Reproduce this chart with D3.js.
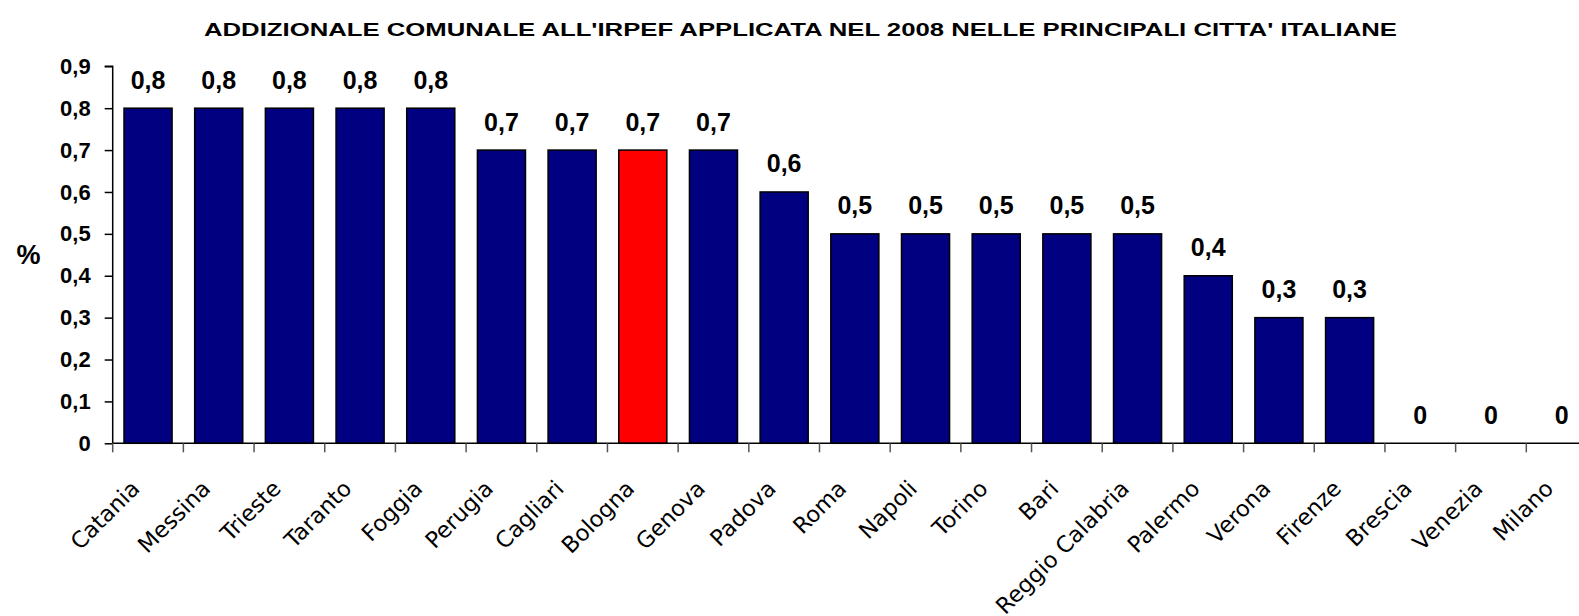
<!DOCTYPE html>
<html><head><meta charset="utf-8">
<script src="https://cdn.jsdelivr.net/npm/d3@7"></script>
<style>body{margin:0;background:#fff}svg{display:block}</style>
</head><body>
<svg id="c" width="1579" height="616"></svg>
<script>
const categories = ["Catania","Messina","Trieste","Taranto","Foggia","Perugia","Cagliari","Bologna","Genova","Padova","Roma","Napoli","Torino","Bari","Reggio Calabria","Palermo","Verona","Firenze","Brescia","Venezia","Milano"];
const values = [0.8,0.8,0.8,0.8,0.8,0.7,0.7,0.7,0.7,0.6,0.5,0.5,0.5,0.5,0.5,0.4,0.3,0.3,0,0,0];
const highlighted = ["Bologna"];
const yTicks = [0,0.1,0.2,0.3,0.4,0.5,0.6,0.7,0.8,0.9];
const title = "ADDIZIONALE COMUNALE ALL'IRPEF APPLICATA NEL 2008 NELLE PRINCIPALI CITTA' ITALIANE";
const yLabel = "%";

const svg = d3.select("#c");
const fmt = d3.formatLocale({decimal:",", thousands:".", grouping:[3], currency:["","€"]}).format("");

const x0 = 112.7, step = 70.68;
const x = d3.scaleBand().domain(categories).range([x0, x0 + step*categories.length]).paddingInner(0.32).paddingOuter(0.16);
const y = d3.scaleLinear().domain([0,0.9]).range([443.3, 66.3]);

// title
svg.append("text").attr("x", 204).attr("y", 36)
  .attr("text-anchor","start").attr("font-family","Liberation Sans, Arial, sans-serif")
  .attr("font-weight","bold").attr("font-size",17.7)
  .attr("textLength",1193).attr("lengthAdjust","spacingAndGlyphs").text(title);

// y label
svg.append("text").attr("x", 28.5).attr("y", 264)
  .attr("text-anchor","middle").attr("font-family","Liberation Sans, Arial, sans-serif")
  .attr("font-weight","bold").attr("font-size",27).text(yLabel);

// bars
svg.append("g").selectAll("rect").data(categories.map((c,i)=>({c, v:values[i]})).filter(d=>d.v>0))
  .join("rect")
  .attr("x", d=>x(d.c)).attr("width", x.bandwidth())
  .attr("y", d=>y(d.v)).attr("height", d=>y(0)-y(d.v))
  .attr("fill", d=>highlighted.includes(d.c) ? "#ff0000" : "#000080")
  .attr("stroke","#000").attr("stroke-width",1.5);

// y axis
const yAxis = d3.axisLeft(y).tickValues(yTicks).tickFormat(fmt).tickSize(8).tickPadding(14);
const gy = svg.append("g").attr("transform",`translate(${x0},0)`).call(yAxis);
gy.select(".domain").attr("stroke","#000").attr("stroke-width",1.5).attr("d", `M-8,${y(0.9)}H0V${y(0)}`);
gy.selectAll(".tick line").attr("stroke","#000").attr("stroke-width",1.5);
gy.selectAll(".tick text").attr("font-family","Liberation Sans, Arial, sans-serif")
  .attr("font-weight","bold").attr("font-size",22).attr("fill","#000");

// x axis line and boundary ticks
const gx = svg.append("g");
gx.append("line").attr("x1", x0).attr("x2", 1579).attr("y1", y(0)).attr("y2", y(0)).attr("stroke","#000").attr("stroke-width",1.5);
const bounds = d3.range(categories.length+1).map(i => x0 + i*x.step());
gx.selectAll("line.tk").data(bounds).join("line").attr("class","tk")
  .attr("x1", d=>d).attr("x2", d=>d).attr("y1", y(0)).attr("y2", y(0)+9)
  .attr("stroke","#555").attr("stroke-width",1.5);

// x labels
gx.selectAll("text").data(categories).join("text")
  .attr("transform", d=>`translate(${x(d)+x.bandwidth()/2-7},490) rotate(-45)`)
  .attr("text-anchor","end")
  .attr("font-family","DejaVu Sans, Verdana, sans-serif")
  .attr("font-size",22.5).attr("fill","#000").text(d=>d);

// value labels
svg.append("g").selectAll("text").data(categories.map((c,i)=>({c, v:values[i]})))
  .join("text")
  .attr("x", d=>x(d.c)+x.bandwidth()/2).attr("y", d=>y(d.v)-19.5)
  .attr("text-anchor","middle").attr("font-family","Liberation Sans, Arial, sans-serif")
  .attr("font-weight","bold").attr("font-size",25).attr("fill","#000")
  .text(d=>fmt(d.v));
</script>
</body></html>
